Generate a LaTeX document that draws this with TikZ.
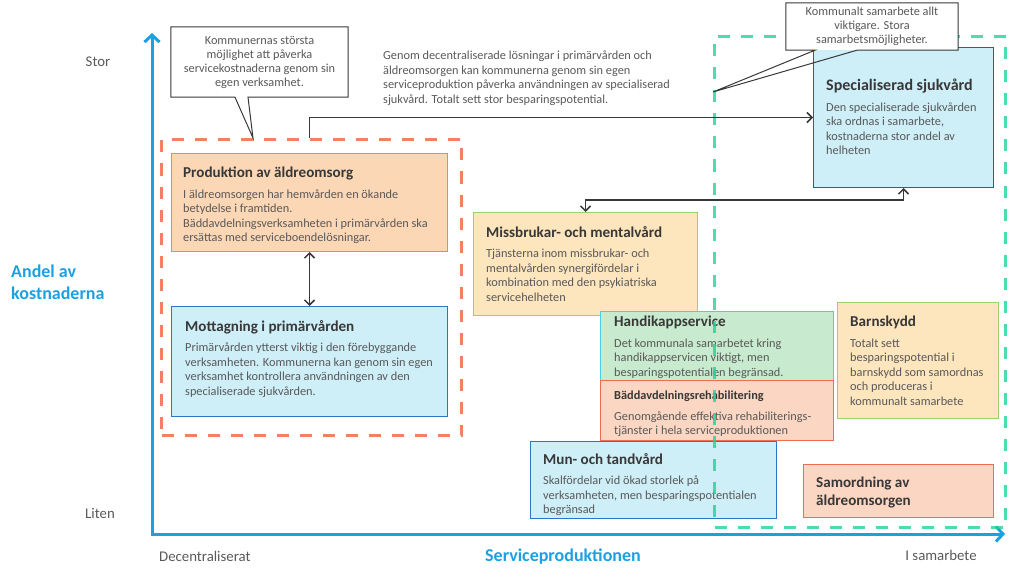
\documentclass[tikz,border=0pt]{standalone}
\usepackage{fontspec}
\setmainfont{Carlito}
\usetikzlibrary{arrows.meta}
\tikzset{>={Straight Barb[length=5pt,width=10pt]}}

\definecolor{axelbla}{RGB}{27,161,226}
\definecolor{grafarg}{RGB}{89,89,89}
\definecolor{rubrikfarg}{RGB}{56,56,56}
\definecolor{orangestreck}{RGB}{244,128,100}
\definecolor{gronstreck}{RGB}{30,212,150}
\definecolor{ljusorange}{RGB}{252,215,182}
\definecolor{ljusgul}{RGB}{253,229,190}
\definecolor{ljusbla}{RGB}{206,238,248}
\definecolor{ljusgron}{RGB}{200,234,206}
\definecolor{ljuslax}{RGB}{251,214,194}
\definecolor{olivram}{RGB}{146,184,82}
\definecolor{gronram}{RGB}{160,208,110}
\definecolor{blaram}{RGB}{46,117,200}
\definecolor{morkblaram}{RGB}{31,100,150}
\definecolor{cyanram}{RGB}{70,210,225}
\definecolor{rodram}{RGB}{240,110,80}

\tikzset{
  axel/.style={line width=3pt, draw=axelbla, >={Straight Barb[length=7pt,width=15pt]}},
  axeltext/.style={text=grafarg, inner sep=0pt, font=\fontsize{14.8}{17}\selectfont},
  axelrubrik/.style={text=axelbla, inner sep=0pt, font=\bfseries\fontsize{18}{22}\selectfont},
  omrade/.style={line width=3pt, anchor=north west, inner sep=0pt, dash pattern=on 12pt off 11pt},
  ruta/.style={line width=1pt, anchor=north west, inner sep=0pt},
  txt/.style={anchor=north west, align=left, inner sep=0pt, text=grafarg, font=\fontsize{12.3}{14.5}\selectfont},
  pratbubbla/.style={rectangle, fill=white, align=center, inner sep=0pt, text=grafarg,
    font=\fontsize{12.3}{14}\selectfont},
  bubbelram/.style={draw=rubrikfarg, line width=1pt, line join=miter},
  pil/.style={line width=1.5pt, draw=rubrikfarg}
}
\newcommand{\rubrik}[2][15.1]{{\color{rubrikfarg}\bfseries\fontsize{#1}{14.5}\selectfont #2}\\[6pt]}

\begin{document}
\begin{tikzpicture}[x=1pt, y=-1pt]
    \useasboundingbox (0,0) rectangle (1024,580);
    % axlar
    \coordinate (ytopp) at (152,33);
    \coordinate (xslut) at (1005,534);
    \draw[axel, <->] (ytopp) |- (xslut);
    \node[axeltext] (stor) at (98,62) {Stor};
    \node[axeltext] (liten) at (100,513) {Liten};
    \node[axeltext, anchor=west] (decentral) at (159,556) {Decentraliserat};
    \node[axeltext] (isamarbete) at (941,555) {I samarbete};
    \node[axelrubrik, align=left, anchor=west] (andel) at (11,282) {Andel av\\kostnaderna};
    \node[axelrubrik] (serviceprod) at (563,557) {Serviceproduktionen};
    % egen verksamhet
    \node[omrade, draw=orangestreck, minimum width=300pt, minimum height=296pt] (egen) at (160,138) {};
    \node[ruta, draw=olivram, fill=ljusorange, minimum width=276pt, minimum height=98pt] (prod) at (171,153) {};
    \node[txt] (prodtxt) at ([shift={(12,14)}]prod.north west) {\rubrik{Produktion av äldreomsorg}I äldreomsorgen har hemvården en ökande\\betydelse i framtiden.\\Bäddavdelningsverksamheten i primärvården ska\\ersättas med serviceboendelösningar.};
    \node[ruta, draw=blaram, fill=ljusbla, minimum width=276pt, minimum height=110pt] (mott) at (171,306) {};
    \node[txt] (motttxt) at ([shift={(14,14)}]mott.north west) {\rubrik{Mottagning i primärvården}Primärvården ytterst viktig i den förebyggande\\verksamheten. Kommunerna kan genom sin egen\\verksamhet kontrollera användningen av den\\specialiserade sjukvården.};
    % mitten
    \node[ruta, draw=gronram, fill=ljusgul, minimum width=224pt, minimum height=103pt] (miss) at (473,212) {};
    \node[txt] (misstxt) at ([shift={(13,14)}]miss.north west) {\rubrik{Missbrukar- och mentalvård}Tjänsterna inom missbrukar- och\\mentalvården synergifördelar i\\kombination med den psykiatriska\\servicehelheten};
    \node[ruta, draw=cyanram, fill=ljusgron, minimum width=233pt, minimum height=69pt] (handi) at (600,311) {};
    \node[txt] (handitxt) at ([shift={(14,5)}]handi.north west) {\rubrik{Handikappservice}Det kommunala samarbetet kring\\handikappservicen viktigt, men\\besparingspotentialen begränsad.};
    \node[ruta, draw=rodram, fill=ljuslax, minimum width=233pt, minimum height=60pt] (badd) at (600,380) {};
    \node[txt] (baddtxt) at ([shift={(14,11)}]badd.north west) {\rubrik[12.3]{Bäddavdelningsrehabilitering}Genomgående effektiva rehabiliterings-\\tjänster i hela serviceproduktionen};
    \node[ruta, draw=blaram, fill=ljusbla, minimum width=246pt, minimum height=77pt] (mun) at (530,441) {};
    \node[txt] (muntxt) at ([shift={(13,12)}]mun.north west) {\rubrik{Mun- och tandvård}Skalfördelar vid ökad storlek på\\verksamheten, men besparingspotentialen\\begränsad};
    % samarbete
    \node[ruta, draw=morkblaram, fill=ljusbla, minimum width=180pt, minimum height=140pt] (spec) at (813,47) {};
    \node[txt] (spectxt) at ([shift={(13,32)}]spec.north west) {\rubrik[16]{Specialiserad sjukvård}Den specialiserade sjukvården\\ska ordnas i samarbete,\\kostnaderna stor andel av\\helheten};
    \node[ruta, draw=gronram, fill=ljusgul, minimum width=161pt, minimum height=116pt] (barn) at (837,302) {};
    \node[txt] (barntxt) at ([shift={(13,14)}]barn.north west) {\rubrik{Barnskydd}Totalt sett\\besparingspotential i\\barnskydd som samordnas\\och produceras i\\kommunalt samarbete};
    \node[ruta, draw=rodram, fill=ljuslax, minimum width=190pt, minimum height=53pt] (samord) at (803,464) {};
    \node[txt, text=rubrikfarg, font=\bfseries\fontsize{15.1}{18}\selectfont] (samordtxt) at ([shift={(13,13)}]samord.north west) {Samordning av\\äldreomsorgen};
    \node[omrade, draw=gronstreck, draw opacity=0.8, minimum width=291pt, minimum height=491pt] (samarb) at (713,35) {};
    % pilar
    \draw[pil, ->] (egen.north -| prod.center) |- (spec.west);
    \draw[pil, <->] (prod.south) -- (mott.north);
    \draw[pil, <->] (miss.north) -- ++(0,-12) -| (spec.south);
    % kommentarer
    \coordinate (spets1) at (253,138);
    \coordinate (spets2) at (713,92);
    \node[pratbubbla, minimum width=177pt, minimum height=70pt] (kommentar1) at (259.5,62) {Kommunernas största\\möjlighet att påverka\\servicekostnaderna genom sin\\egen verksamhet.};
    \draw[bubbelram] ([xshift=-11.5pt]kommentar1.south) -- (kommentar1.south east) -- (kommentar1.north east)
      -- (kommentar1.north west) -- (kommentar1.south west) -- ([xshift=-24.5pt]kommentar1.south) -- (spets1) -- cycle;
    \node[pratbubbla, minimum width=172pt, minimum height=47pt] (kommentar2) at (872,26.5) {Kommunalt samarbete allt\\viktigare. Stora\\samarbetsmöjligheter.};
    \draw[bubbelram] ([xshift=-15pt]kommentar2.south) -- (kommentar2.south east) -- (kommentar2.north east)
      -- (kommentar2.north west) -- (kommentar2.south west) -- ([xshift=-57pt]kommentar2.south) -- (spets2) -- cycle;
    \node[txt] (genom) at (383,51) {Genom decentraliserade lösningar i primärvården och\\äldreomsorgen kan kommunerna genom sin egen\\serviceproduktion påverka användningen av specialiserad\\sjukvård. Totalt sett stor besparingspotential.};
\end{tikzpicture}
\end{document}
